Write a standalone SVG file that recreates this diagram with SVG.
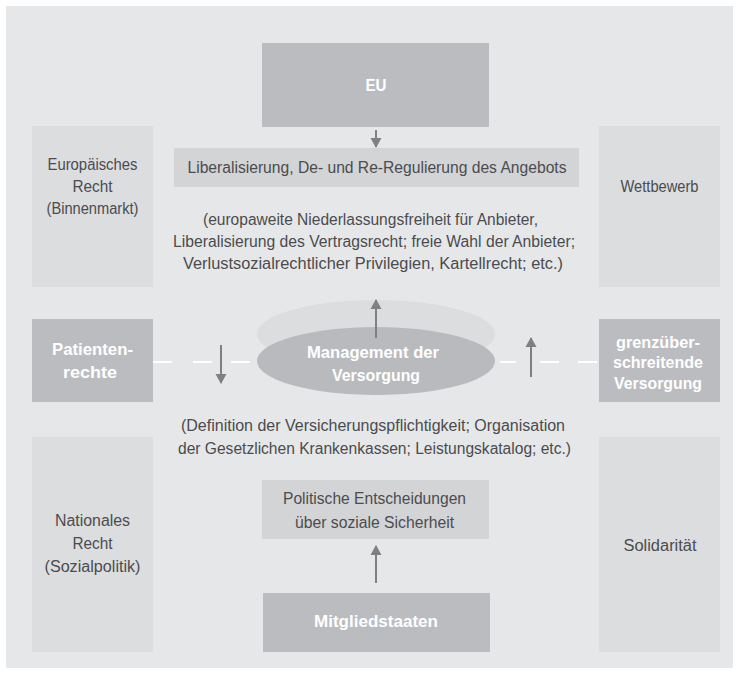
<svg xmlns="http://www.w3.org/2000/svg" width="738" height="676" viewBox="0 0 738 676">
<defs>
<marker id="ah" viewBox="0 0 10 14" refX="9" refY="7" markerWidth="10" markerHeight="14" markerUnits="userSpaceOnUse" orient="auto">
<path d="M0,1.5 L10,7 L0,12.5 Z" fill="#7f8084"/>
</marker>
</defs>
<style>
.bg{fill:#e6e7e9}
.side{fill:#dcdddf}
.dark{fill:#bbbcc0}
.mid{fill:#d3d4d6}
.t{font-family:"Liberation Sans",Arial,sans-serif;font-size:16px;fill:#4b4c4e;text-anchor:middle;dominant-baseline:central}
.w{font-family:"Liberation Sans",Arial,sans-serif;font-size:17px;font-weight:bold;fill:#ffffff;text-anchor:middle;dominant-baseline:central}
.arr{stroke:#7f8084;stroke-width:2;fill:none;marker-end:url(#ah)}
.dash{stroke:#ffffff;stroke-width:2;fill:none}
</style>
<rect class="bg" x="6" y="6" width="727" height="662"/>

<g id="europaeisches-recht">
<rect class="side" x="32" y="126" width="121" height="161"/>
<text class="t" x="92.5" y="164" textLength="90" lengthAdjust="spacingAndGlyphs">Europäisches</text>
<text class="t" x="92.5" y="186" textLength="40" lengthAdjust="spacingAndGlyphs">Recht</text>
<text class="t" x="92.5" y="208" textLength="92" lengthAdjust="spacingAndGlyphs">(Binnenmarkt)</text>
</g>
<g id="wettbewerb">
<rect class="side" x="599" y="126" width="121" height="161"/>
<text class="t" x="659.5" y="186" textLength="78" lengthAdjust="spacingAndGlyphs">Wettbewerb</text>
</g>
<g id="nationales-recht">
<rect class="side" x="32" y="437" width="121" height="215"/>
<text class="t" x="92.5" y="520" textLength="75" lengthAdjust="spacingAndGlyphs">Nationales</text>
<text class="t" x="92.5" y="543" textLength="40" lengthAdjust="spacingAndGlyphs">Recht</text>
<text class="t" x="92.5" y="566" textLength="96" lengthAdjust="spacingAndGlyphs">(Sozialpolitik)</text>
</g>
<g id="solidaritaet">
<rect class="side" x="599" y="437" width="121" height="215"/>
<text class="t" x="660" y="545" textLength="73" lengthAdjust="spacingAndGlyphs">Solidarität</text>
</g>

<g id="eu">
<rect class="dark" x="262" y="43" width="227" height="84"/>
<text class="w" x="376" y="85" textLength="21" lengthAdjust="spacingAndGlyphs">EU</text>
</g>
<g id="liberalisierung">
<rect class="mid" x="174" y="148" width="405" height="39"/>
<text class="t" x="377" y="167" textLength="379" lengthAdjust="spacingAndGlyphs">Liberalisierung, De- und Re-Regulierung des Angebots</text>
</g>
<g id="eu-erlaeuterung">
<text class="t" x="370.5" y="219" textLength="335" lengthAdjust="spacingAndGlyphs">(europaweite Niederlassungsfreiheit für Anbieter,</text>
<text class="t" x="374" y="241" textLength="402" lengthAdjust="spacingAndGlyphs">Liberalisierung des Vertragsrecht; freie Wahl der Anbieter;</text>
<text class="t" x="373" y="263" textLength="380" lengthAdjust="spacingAndGlyphs">Verlustsozialrechtlicher Privilegien, Kartellrecht; etc.)</text>
</g>

<g id="patientenrechte">
<rect class="dark" x="32" y="319" width="121" height="83"/>
<text class="w" x="92.5" y="349" textLength="81" lengthAdjust="spacingAndGlyphs">Patienten-</text>
<text class="w" x="90" y="372" textLength="54" lengthAdjust="spacingAndGlyphs">rechte</text>
</g>
<g id="grenzueberschreitende-versorgung">
<rect class="dark" x="599" y="319" width="121" height="83"/>
<text class="w" x="658" y="342" textLength="84" lengthAdjust="spacingAndGlyphs">grenzüber-</text>
<text class="w" x="658" y="362" textLength="90" lengthAdjust="spacingAndGlyphs">schreitende</text>
<text class="w" x="658" y="383" textLength="88" lengthAdjust="spacingAndGlyphs">Versorgung</text>
</g>

<g id="management">
<ellipse cx="376" cy="334" rx="119" ry="34" fill="#dcdddf"/>
<ellipse cx="376" cy="361" rx="119" ry="34" fill="#b9babe"/>
<text class="w" x="373" y="352" textLength="132" lengthAdjust="spacingAndGlyphs">Management der</text>
<text class="w" x="376" y="375" textLength="88" lengthAdjust="spacingAndGlyphs">Versorgung</text>
</g>

<g id="nat-erlaeuterung">
<text class="t" x="373" y="425" textLength="384" lengthAdjust="spacingAndGlyphs">(Definition der Versicherungspflichtigkeit; Organisation</text>
<text class="t" x="374.5" y="448" textLength="393" lengthAdjust="spacingAndGlyphs">der Gesetzlichen Krankenkassen; Leistungskatalog; etc.)</text>
</g>
<g id="politische-entscheidungen">
<rect class="mid" x="262" y="480" width="227" height="59"/>
<text class="t" x="374.5" y="498" textLength="183" lengthAdjust="spacingAndGlyphs">Politische Entscheidungen</text>
<text class="t" x="374.5" y="522" textLength="159" lengthAdjust="spacingAndGlyphs">über soziale Sicherheit</text>
</g>
<g id="mitgliedstaaten">
<rect class="dark" x="263" y="593" width="227" height="59"/>
<text class="w" x="376" y="621" textLength="124" lengthAdjust="spacingAndGlyphs">Mitgliedstaaten</text>
</g>

<g id="connectors">
<path class="dash" d="M153,362 H172 M193,362 H212 M231,362 H250"/>
<path class="dash" d="M500,362 H516 M540,362 H559 M578,362 H597"/>
<line class="arr" x1="376" y1="130" x2="376" y2="147"/>
<line class="arr" x1="376" y1="338" x2="376" y2="300"/>
<line class="arr" x1="221" y1="345" x2="221" y2="383"/>
<line class="arr" x1="531" y1="377" x2="531" y2="338"/>
<line class="arr" x1="376" y1="583" x2="376" y2="546"/>
</g>
</svg>
